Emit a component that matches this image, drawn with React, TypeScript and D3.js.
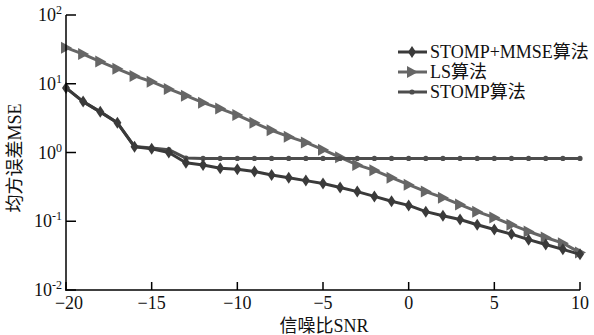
import React, { useRef, useEffect } from "react";
import * as d3 from "d3";

const snr = [-20, -19, -18, -17, -16, -15, -14, -13, -12, -11, -10, -9, -8, -7, -6, -5, -4, -3, -2, -1, 0, 1, 2, 3, 4, 5, 6, 7, 8, 9, 10];

const mseStompMmse = [8.7, 5.5, 3.9, 2.7, 1.21, 1.13, 1.0, 0.71, 0.66, 0.59, 0.57, 0.53, 0.47, 0.43, 0.39, 0.355, 0.31, 0.27, 0.23, 0.195, 0.17, 0.138, 0.12, 0.106, 0.089, 0.076, 0.065, 0.054, 0.046, 0.039, 0.033];
const mseLs = [33.5, 27, 21, 16.5, 13, 10.7, 8.4, 6.7, 5.3, 4.35, 3.5, 2.7, 2.1, 1.7, 1.4, 1.1, 0.85, 0.66, 0.55, 0.43, 0.34, 0.27, 0.22, 0.175, 0.138, 0.113, 0.089, 0.071, 0.058, 0.048, 0.035];
const mseStomp = [8.7, 5.5, 3.9, 2.7, 1.22, 1.16, 1.1, 0.83, 0.82, 0.82, 0.82, 0.82, 0.82, 0.82, 0.82, 0.82, 0.82, 0.82, 0.82, 0.82, 0.82, 0.82, 0.82, 0.82, 0.82, 0.82, 0.82, 0.82, 0.82, 0.82, 0.82];

const xTicks = [-20, -15, -10, -5, 0, 5, 10];
const xTickLabels = ["\u221220", "\u221215", "\u221210", "\u22125", "0", "5", "10"];
const yTicks = [0.01, 0.1, 1, 10, 100];
const yTickExps = ["-2", "-1", "0", "1", "2"];

const seriesNames = ["STOMP+MMSE算法", "LS算法", "STOMP算法"];

const diamond = "M0,-6L4,0L0,6L-4,0Z";
const triangle = "M-5,-6L6,0L-5,6Z";

const App: React.FC = () => {
    const svgRef = useRef<SVGSVGElement | null>(null);

    useEffect(() => {
        if (!svgRef.current) return;
        const width = 594;
        const height = 335;
        const serif = "'Liberation Serif', 'Times New Roman', 'Noto Sans CJK SC', serif";

        const svg = d3.select(svgRef.current);
        svg.selectAll("*").remove();

        const x = d3.scaleLinear().domain([-20, 10]).range([66, 580]);
        const y = d3.scaleLog().domain([0.01, 100]).range([290, 15]);

        const series = [
            { name: seriesNames[1], values: mseLs, color: "#666666", marker: "tri" },
            { name: seriesNames[2], values: mseStomp, color: "#4d4d4d", marker: "dot" },
            { name: seriesNames[0], values: mseStompMmse, color: "#3a3a3a", marker: "dia" },
        ];

        const line = d3.line<number>()
            .x((_, i) => x(snr[i]))
            .y(d => y(d));

        const drawMarker = (g: any, kind: string, color: string) => {
            if (kind === "dot") {
                g.append("circle").attr("r", 2.6).attr("fill", color);
            } else {
                g.append("path").attr("d", kind === "dia" ? diamond : triangle).attr("fill", color);
            }
        };

        // Lines and markers
        series.forEach(s => {
            svg.append("path")
                .datum(s.values)
                .attr("fill", "none")
                .attr("stroke", s.color)
                .attr("stroke-width", 3)
                .attr("stroke-linejoin", "round")
                .attr("d", line);
            s.values.forEach((v, i) => {
                const g = svg.append("g").attr("transform", `translate(${x(snr[i])},${y(v)})`);
                drawMarker(g, s.marker, s.color);
            });
        });

        // Axes
        const axis = svg.append("g").attr("stroke", "#000").attr("stroke-width", 1.5);
        axis.append("line").attr("x1", 66).attr("x2", 66).attr("y1", 15).attr("y2", 290.75);
        axis.append("line").attr("x1", 65.25).attr("x2", 580).attr("y1", 290).attr("y2", 290);
        xTicks.forEach(t => {
            axis.append("line").attr("x1", x(t)).attr("x2", x(t)).attr("y1", 290).attr("y2", 282);
        });
        yTicks.forEach(t => {
            axis.append("line").attr("x1", 66).attr("x2", 76).attr("y1", y(t)).attr("y2", y(t));
        });

        const labels = svg.append("g").attr("font-family", serif).attr("fill", "#111");
        xTicks.forEach((t, i) => {
            labels.append("text")
                .attr("x", x(t) + (i === 0 ? 3 : 0))
                .attr("y", 309)
                .attr("text-anchor", "middle")
                .attr("font-size", 18)
                .text(xTickLabels[i]);
        });
        yTicks.forEach((t, i) => {
            const txt = labels.append("text")
                .attr("x", 62)
                .attr("y", y(t) + 6)
                .attr("text-anchor", "end")
                .attr("font-size", 18);
            txt.append("tspan").text("10");
            txt.append("tspan").attr("font-size", 12).attr("dy", -7).text(yTickExps[i]);
        });

        labels.append("text")
            .attr("x", 324)
            .attr("y", 332)
            .attr("text-anchor", "middle")
            .attr("font-size", 18)
            .text("信噪比SNR");
        labels.append("text")
            .attr("transform", "translate(21,158) rotate(-90)")
            .attr("text-anchor", "middle")
            .attr("font-size", 18)
            .text("均方误差MSE");

        // Legend
        const legendRows = [series[2], series[0], series[1]];
        legendRows.forEach((s, i) => {
            const cy = 52 + i * 20;
            const g = svg.append("g");
            g.append("line")
                .attr("x1", 398).attr("x2", 427)
                .attr("y1", cy).attr("y2", cy)
                .attr("stroke", s.color).attr("stroke-width", 3);
            const m = g.append("g").attr("transform", `translate(412,${cy})`);
            drawMarker(m, s.marker, s.color);
            g.append("text")
                .attr("x", 430)
                .attr("y", cy + 6)
                .attr("font-family", serif)
                .attr("font-size", 18)
                .attr("fill", "#111")
                .text(s.name);
        });

        svg.attr("width", width).attr("height", height).attr("viewBox", `0 0 ${width} ${height}`);
    }, []);

    return (
        <svg
            ref={svgRef}
            style={{ position: "absolute", left: 0, top: 0, background: "#fff" }}
        />
    );
};

export default App;
